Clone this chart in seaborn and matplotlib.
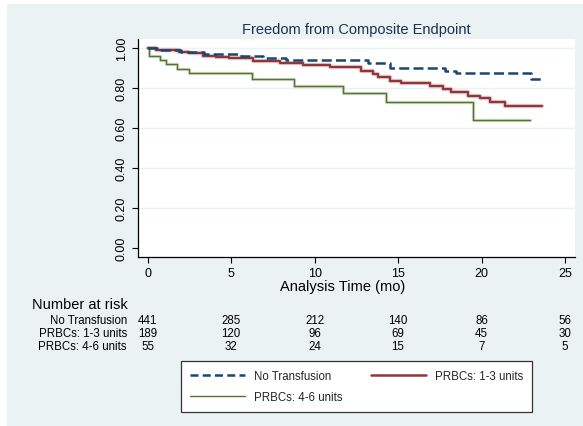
import numpy as np
import pandas as pd
import matplotlib
matplotlib.use("Agg")
import matplotlib.pyplot as plt
from matplotlib.patches import Rectangle
from matplotlib.lines import Line2D
import matplotlib.transforms as mtransforms
import seaborn as sns

# ---------------- data ----------------
no_tx_t = [0, 0.8, 2.0, 3.4, 5.6, 6.9, 8.3, 13.2, 14.5, 17.8, 18.5, 22.95, 23.75]
no_tx_s = [1.0, 0.993, 0.983, 0.972, 0.963, 0.950, 0.940, 0.926, 0.900, 0.888, 0.875, 0.847, 0.847]

prbc13_t = [0, 0.5, 1.3, 1.9, 2.5, 3.3, 4.1, 4.9, 6.3, 7.9, 9.3, 10.9, 12.8, 13.5, 13.8,
            14.5, 15.2, 16.9, 17.7, 18.2, 19.2, 19.9, 20.5, 21.4, 23.6]
prbc13_s = [1.0, 0.993, 0.99, 0.983, 0.977, 0.963, 0.958, 0.951, 0.938, 0.927, 0.918, 0.908,
            0.885, 0.872, 0.855, 0.838, 0.825, 0.81, 0.797, 0.783, 0.763, 0.75, 0.733, 0.713, 0.713]

prbc46_t = [0, 0.05, 0.73, 1.1, 1.75, 2.5, 6.25, 8.75, 11.7, 14.3, 19.5, 22.9]
prbc46_s = [1.0, 0.963, 0.94, 0.92, 0.897, 0.878, 0.847, 0.813, 0.777, 0.731, 0.641, 0.641]

groups = ["No Transfusion", "PRBCs: 1-3 units", "PRBCs: 4-6 units"]
risk_times = [0, 5, 10, 15, 20, 25]
risk_no_tx = [441, 285, 212, 140, 86, 56]
risk_prbc13 = [189, 120, 96, 69, 45, 30]
risk_prbc46 = [55, 32, 24, 15, 7, 5]

title = "Freedom from Composite Endpoint"
xlabel = "Analysis Time (mo)"
yticks = [0.0, 0.2, 0.4, 0.6, 0.8, 1.0]
xticks = [0, 5, 10, 15, 20, 25]

# ---------------- style ----------------
sns.set_theme(style="white")
plt.rcParams["font.family"] = ["Liberation Sans", "DejaVu Sans"]

BG = "#EAF2F3"
C_BLUE = "#1A476F"
C_RED = "#90353B"
C_GREEN = "#55752F"

W, H = 583, 427
fig = plt.figure(figsize=(W / 100, H / 100), dpi=100, facecolor="white")
fig.patches.append(Rectangle((7 / W, 0), 1 - 7 / W, 1 - 5 / H, transform=fig.transFigure,
                             facecolor=BG, edgecolor="none", zorder=-10))

ax = fig.add_axes([138 / W, 1 - 258 / H, 437 / W, 218 / H])
ax.set_facecolor("white")

df_blue = pd.DataFrame({"t": no_tx_t, "s": no_tx_s})
df_red = pd.DataFrame({"t": prbc13_t, "s": prbc13_s})
df_green = pd.DataFrame({"t": prbc46_t, "s": prbc46_s})

for yv in yticks[1:]:
    ax.axhline(yv, color=BG, lw=1.0, zorder=0)

# halos
sns.lineplot(data=df_red, x="t", y="s", ax=ax, color=C_RED, lw=3.2, alpha=0.25,
             drawstyle="steps-post", estimator=None, sort=False, zorder=2)
sns.lineplot(data=df_green, x="t", y="s", ax=ax, color=C_GREEN, lw=2.4, alpha=0.25,
             drawstyle="steps-post", estimator=None, sort=False, zorder=2)

sns.lineplot(data=df_green, x="t", y="s", ax=ax, color=C_GREEN, lw=1.0,
             drawstyle="steps-post", estimator=None, sort=False, zorder=3)
sns.lineplot(data=df_red, x="t", y="s", ax=ax, color=C_RED, lw=1.6,
             drawstyle="steps-post", estimator=None, sort=False, zorder=4)
sns.lineplot(data=df_blue, x="t", y="s", ax=ax, color=C_BLUE, lw=1.8,
             linestyle=(0, (4, 1.7)), drawstyle="steps-post", estimator=None,
             sort=False, zorder=5)

ax.set_xlim(-0.58, 25.6)
ax.set_ylim(-0.0435, 1.0465)
ax.set_xticks(xticks)
ax.set_xticklabels([str(x) for x in xticks], fontsize=9)
ax.set_yticks(yticks)
ax.set_yticklabels([f"{v:.2f}" for v in yticks], fontsize=9, rotation=90, va="center")
ax.tick_params(axis="both", direction="out", length=4.5, width=0.8, color="black",
               labelcolor="black", pad=3, left=True, bottom=True)
for s in ["top", "right"]:
    ax.spines[s].set_visible(False)
for s in ["left", "bottom"]:
    ax.spines[s].set_color("black")
    ax.spines[s].set_linewidth(0.9)
ax.set_xlabel("")
ax.set_ylabel("")

fig.text(356 / W, 1 - 30 / H, title, ha="center", va="center", fontsize=10.5, color="#1F2F52")
fig.text(343 / W, 1 - 287 / H, xlabel, ha="center", va="center", fontsize=10.5, color="black")

# risk table
fig.text(32 / W, 1 - 305 / H, "Number at risk", ha="left", va="center", fontsize=10.5, color="black")
trans = mtransforms.blended_transform_factory(ax.transData, fig.transFigure)
rows = [risk_no_tx, risk_prbc13, risk_prbc46]
row_y = [321, 334, 347]
for g, vals, yp in zip(groups, rows, row_y):
    fig.text(127 / W, 1 - yp / H, g, ha="right", va="center", fontsize=8.3, color="black")
    for t, v in zip(risk_times, vals):
        ax.text(t, 1 - yp / H, str(v), transform=trans, ha="center", va="center",
                fontsize=8.3, color="black", clip_on=False)

# legend
handles = [
    Line2D([], [], color=C_BLUE, lw=1.8, linestyle=(0, (3.2, 1.7))),
    Line2D([], [], color=C_GREEN, lw=1.0),
    Line2D([], [], color=C_RED, lw=1.8),
]
labels = [groups[0], groups[2], groups[1]]
leg = fig.legend(handles, labels, loc="upper left",
                 bbox_to_anchor=(181 / W, 1 - 409 / H, 351 / W, 47 / H),
                 mode="expand", ncol=2, fontsize=8.3, frameon=True, fancybox=False,
                 framealpha=1, facecolor="white", edgecolor="#333333",
                 handlelength=4.8, handletextpad=0.75, labelspacing=0.8,
                 borderpad=0.75, borderaxespad=0, columnspacing=3.0)
leg.get_frame().set_linewidth(0.9)

fig.savefig("out.png", dpi=100, facecolor=fig.get_facecolor())
